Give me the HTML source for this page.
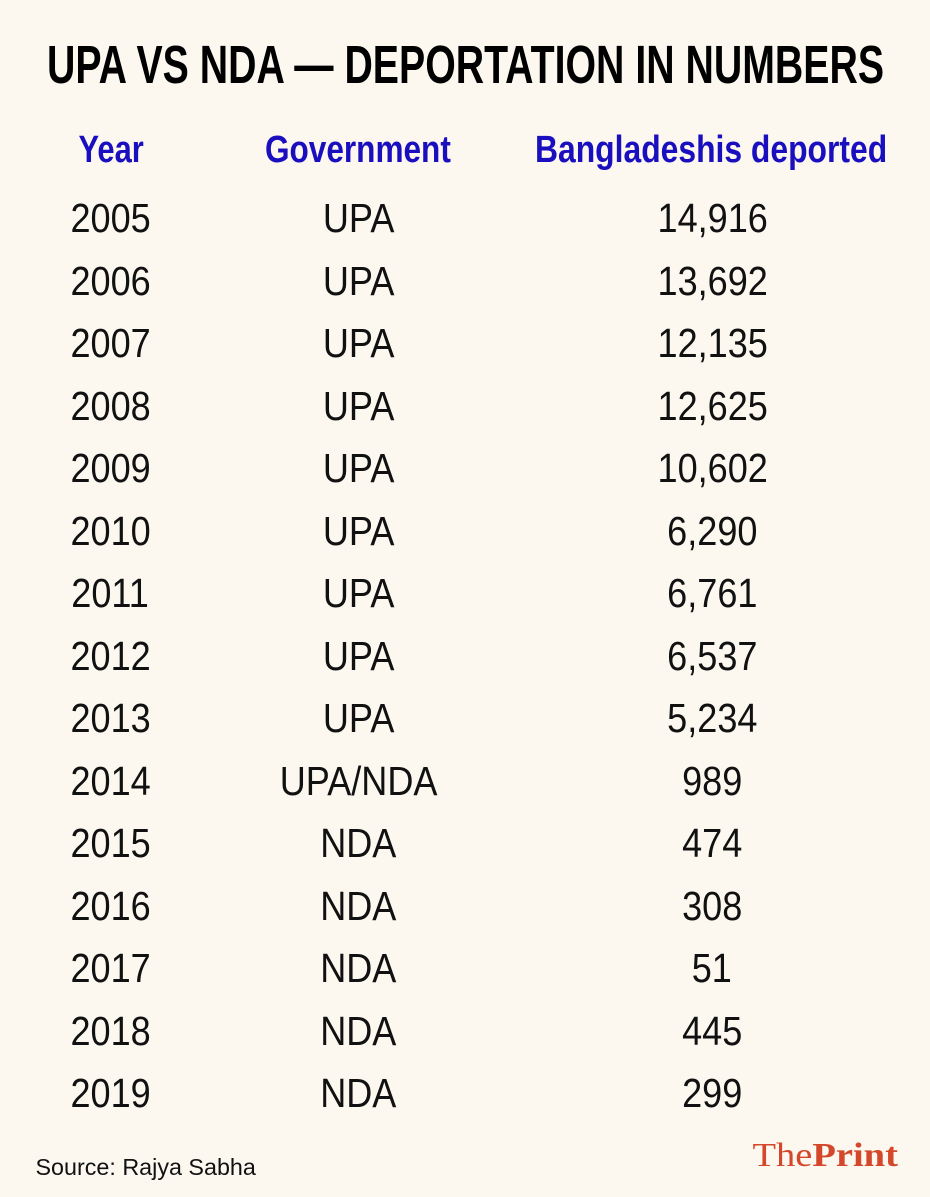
<!DOCTYPE html>
<html><head><meta charset="utf-8">
<style>
html,body{margin:0;padding:0;}
body{width:930px;height:1197px;background:#fcf8f0;position:relative;overflow:hidden;font-family:"Liberation Sans",sans-serif;}
.t{position:absolute;white-space:nowrap;line-height:1;transform-origin:center center;}
#title{font-weight:bold;font-size:54px;color:#000;top:38px;}
.hd{font-weight:bold;font-size:38px;color:#1a0fbf;top:131px;}
.cell{font-size:41px;color:#111;}
#src{font-size:23px;top:1156px;color:#111;}
#logo{font-family:"Liberation Serif",serif;font-size:34px;color:#d4472a;top:1139px;}
</style></head>
<body>
<div class="t" id="title" data-fit="465,837">UPA VS NDA — DEPORTATION IN NUMBERS</div>
<div class="t hd" data-fit="111,65">Year</div>
<div class="t hd" data-fit="358,186">Government</div>
<div class="t hd" data-fit="711,352">Bangladeshis deported</div>
<div id="rows"></div>
<div class="t" id="src" data-fit="145,220">Source: Rajya Sabha</div>
<div class="t" id="logo" data-fit="825,145">The<b>Print</b></div>
<script>
const years=["2005","2006","2007","2008","2009","2010","2011","2012","2013","2014","2015","2016","2017","2018","2019"];
const govs=["UPA","UPA","UPA","UPA","UPA","UPA","UPA","UPA","UPA","UPA/NDA","NDA","NDA","NDA","NDA","NDA"];
const deported=[14916,13692,12135,12625,10602,6290,6761,6537,5234,989,474,308,51,445,299];
const rows=document.getElementById('rows');
const colX=[110,358,712];
for(let i=0;i<years.length;i++){
  const vals=[years[i],govs[i],deported[i].toLocaleString('en-US')];
  const names=['year-cell','government-cell','deported-cell'];
  for(let c=0;c<3;c++){
    const d=document.createElement('div');
    d.className='t cell';
    d.textContent=vals[c];
    
    
    d.style.top=(218+62.5*i-20)+'px';
    d.dataset.cx=colX[c];
    d.dataset.sx='0.88';
    rows.appendChild(d);
  }
}
document.querySelectorAll('.t').forEach(el=>{
  const w=el.offsetWidth;
  let cx,sx;
  if(el.dataset.fit){const [c,tw]=el.dataset.fit.split(',').map(Number);cx=c;sx=tw/w;}
  else{cx=+el.dataset.cx;sx=+el.dataset.sx;}
  el.style.left=(cx-w/2)+'px';
  el.style.transform='scaleX('+sx+')';
});
</script>
</body></html>
